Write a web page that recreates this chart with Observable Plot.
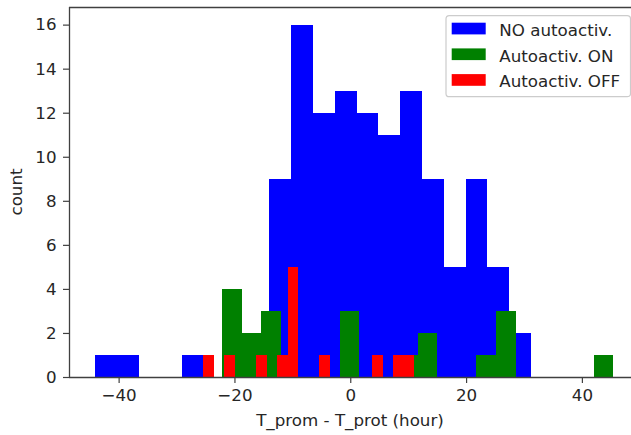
<!DOCTYPE html>
<html><head><meta charset="utf-8">
<script src="https://cdn.jsdelivr.net/npm/d3@7"></script>
<script src="https://cdn.jsdelivr.net/npm/@observablehq/plot@0.6"></script>
<style>
body{margin:0;background:#fff}
#chart{position:relative;width:631px;height:435px;overflow:hidden}
</style>
</head><body><div id="chart"></div>
<script>
// Series names & colours
const seriesNames = ["NO autoactiv.", "Autoactiv. ON", "Autoactiv. OFF"];
const seriesColors = ["#0000ff", "#008000", "#ff0000"];

// Histogram ranges (first edge, last edge) and counts per bin (20 bins each)
const noAutoRange = [-44.09, 31.21];
const noAutoCounts = [1, 1, 0, 0, 1, 0, 0, 0, 9, 16, 12, 13, 12, 11, 13, 9, 5, 9, 5, 2];
const onRange = [-22.11, 45.42];
const onCounts = [4, 2, 3, 0, 0, 0, 3, 0, 0, 1, 2, 0, 0, 1, 3, 0, 0, 0, 0, 1];
const offRange = [-25.39, 11.05];
const offCounts = [1, 0, 1, 0, 0, 1, 0, 1, 5, 0, 0, 1, 0, 0, 0, 0, 1, 0, 1, 1];

// Axes
const xDomain = [-48.57, 48.48];
const yDomain = [0, 16.8];
const xTicks = [-40, -20, 0, 20, 40];
const yTicks = [0, 2, 4, 6, 8, 10, 12, 14, 16];
const xLabel = "T_prom - T_prot (hour)";
const yLabel = "count";

function binRows(range, counts, name) {
  const w = (range[1] - range[0]) / counts.length;
  return counts.map((c, i) => ({x1: range[0] + i * w, x2: range[0] + (i + 1) * w, y: c, s: name}))
    .filter(d => d.y > 0);
}
const rows = [
  ...binRows(noAutoRange, noAutoCounts, seriesNames[0]),
  ...binRows(onRange, onCounts, seriesNames[1]),
  ...binRows(offRange, offCounts, seriesNames[2])
];

const FONT = "DejaVu Sans";
const FS = 16.7;
const TXT = "#262626";
const AX = "#404040";
const fmt = d => d < 0 ? "\u2212" + Math.abs(d) : String(d);

const chart = Plot.plot({
  width: 631, height: 435,
  marginLeft: 69, marginRight: 0, marginTop: 7, marginBottom: 58,
  style: {fontFamily: FONT, fontSize: FS + "px", color: TXT, background: "white", overflow: "visible"},
  x: {domain: xDomain},
  y: {domain: yDomain},
  color: {domain: seriesNames, range: seriesColors},
  marks: [
    Plot.rectY(rows, {x1: "x1", x2: "x2", y: "y", fill: "s", inset: 0, shapeRendering: "crispEdges"}),
    Plot.ruleY([yDomain[0]], {stroke: AX, strokeWidth: 1.3}),
    Plot.ruleY([yDomain[1]], {stroke: AX, strokeWidth: 1.3}),
    Plot.ruleX([xDomain[0]], {stroke: AX, strokeWidth: 1.3}),
    Plot.axisX({ticks: xTicks, tickFormat: fmt, tickSize: 6, tickPadding: 6, label: null, stroke: AX, strokeWidth: 1.2, fill: TXT}),
    Plot.axisY({ticks: yTicks, tickFormat: fmt, tickSize: 6, tickPadding: 7, label: null, stroke: AX, strokeWidth: 1.2, fill: TXT})
  ]
});
document.getElementById("chart").appendChild(chart);

const svg = d3.select(chart);
// axis titles
svg.append("text").attr("x", 350).attr("y", 426).attr("text-anchor", "middle")
  .attr("font-family", FONT).attr("font-size", FS).attr("fill", TXT).text(xLabel);
svg.append("text").attr("transform", "translate(22,192) rotate(-90)").attr("text-anchor", "middle")
  .attr("font-family", FONT).attr("font-size", FS).attr("fill", TXT).text(yLabel);

// legend
const lg = svg.append("g").attr("text-anchor", "start");
lg.append("rect").attr("x", 446).attr("y", 15.7).attr("width", 184.5).attr("height", 81)
  .attr("rx", 3.3).attr("fill", "white").attr("fill-opacity", 0.8).attr("stroke", "#cccccc").attr("stroke-width", 1.2);
seriesNames.forEach((name, i) => {
  const top = 22.7 + i * 25.7;
  lg.append("rect").attr("x", 451.7).attr("y", top).attr("width", 34).attr("height", 11.7).attr("fill", seriesColors[i]);
  lg.append("text").attr("x", 499.3).attr("y", top + 13.3).attr("text-anchor", "start").attr("font-family", FONT).attr("font-size", FS)
    .attr("fill", TXT).text(name);
});
</script>
</body></html>
